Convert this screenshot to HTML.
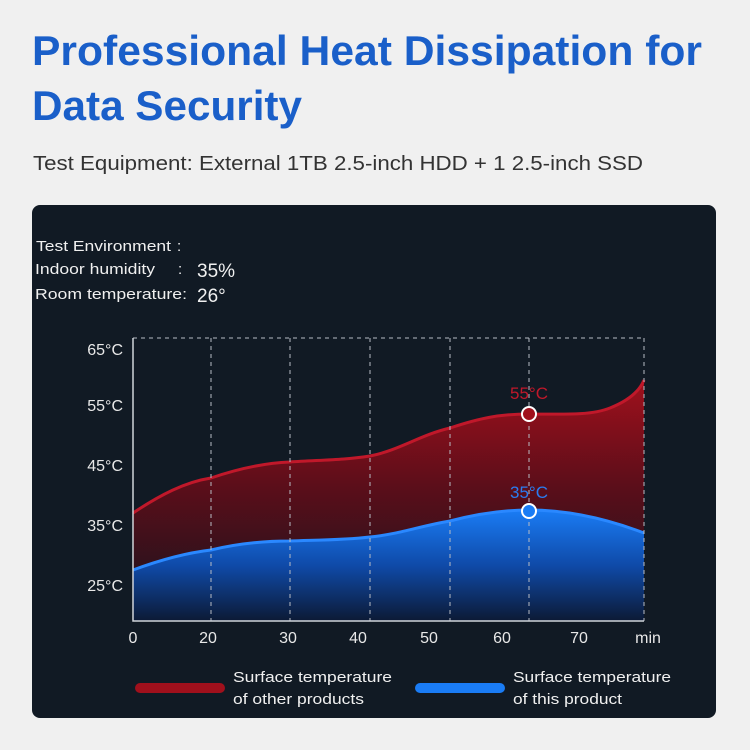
<!DOCTYPE html>
<html><head><meta charset="utf-8"><style>
html,body{margin:0;padding:0;background:#f0f0f0;}
svg{display:block;}
text{font-family:"Liberation Sans",sans-serif;}
</style></head><body>
<svg width="750" height="750" viewBox="0 0 750 750" xmlns="http://www.w3.org/2000/svg">
<defs>
<linearGradient id="rg" x1="0" y1="0" x2="0" y2="1">
<stop offset="0" stop-color="#a0101c"/><stop offset="0.45" stop-color="#5a0e1a"/><stop offset="1" stop-color="#15141d"/>
</linearGradient>
<linearGradient id="bg" x1="0" y1="0" x2="0" y2="1">
<stop offset="0" stop-color="#1a7cf5"/><stop offset="0.5" stop-color="#0f4aa8"/><stop offset="1" stop-color="#0c1a35"/>
</linearGradient>
</defs>
<rect width="750" height="750" fill="#f0f0f0"/>
<text x="32" y="65" font-size="42" font-weight="bold" fill="#1a5fc9" textLength="670" lengthAdjust="spacingAndGlyphs">Professional Heat Dissipation for</text>
<text x="32" y="120" font-size="42" font-weight="bold" fill="#1a5fc9" textLength="270" lengthAdjust="spacingAndGlyphs">Data Security</text>
<text x="33" y="170" font-size="20" fill="#333" textLength="610" lengthAdjust="spacingAndGlyphs">Test Equipment: External 1TB 2.5-inch HDD + 1 2.5-inch SSD</text>
<rect x="32" y="205" width="684" height="513" rx="8" fill="#111a24"/>
<g fill="#f0f0f0" font-size="15">
<text x="36" y="251" textLength="135" lengthAdjust="spacingAndGlyphs">Test Environment</text><text x="177" y="251">:</text>
<text x="35" y="274" textLength="120" lengthAdjust="spacingAndGlyphs">Indoor humidity</text><text x="178" y="274">:</text><text x="197" y="277" font-size="19">35%</text>
<text x="35" y="299" textLength="152" lengthAdjust="spacingAndGlyphs">Room temperature:</text><text x="197" y="302" font-size="19">26°</text>
</g>
<path d="M133 513 C160 495,185 482,211 478 C240 468,265 463,290 462 C320 460,345 460,370 456 C400 450,420 435,450 428 C480 418,500 414,529 414 C560 414,590 416,610 408 C630 400,640 390,644 380 L644 621 L133 621 Z" fill="url(#rg)"/>
<path d="M133 513 C160 495,185 482,211 478 C240 468,265 463,290 462 C320 460,345 460,370 456 C400 450,420 435,450 428 C480 418,500 414,529 414 C560 414,590 416,610 408 C630 400,640 390,644 380" fill="none" stroke="#c0182a" stroke-width="3"/>
<path d="M133 570 C160 560,185 553,211 550 C240 543,265 541,290 541 C320 540,345 540,370 537 C400 534,420 526,450 521 C480 513,505 510,529 510 C570 510,610 520,644 533 L644 621 L133 621 Z" fill="url(#bg)"/>
<path d="M133 570 C160 560,185 553,211 550 C240 543,265 541,290 541 C320 540,345 540,370 537 C400 534,420 526,450 521 C480 513,505 510,529 510 C570 510,610 520,644 533" fill="none" stroke="#2a88ff" stroke-width="3"/>
<g stroke="#b8bcc4" stroke-width="1" stroke-dasharray="4,4" fill="none">
<line x1="133" y1="338" x2="644" y2="338"/><line x1="644" y1="338" x2="644" y2="621"/>
<line x1="211" y1="338" x2="211" y2="621"/><line x1="290" y1="338" x2="290" y2="621"/>
<line x1="370" y1="338" x2="370" y2="621"/><line x1="450" y1="338" x2="450" y2="621"/>
<line x1="529" y1="338" x2="529" y2="621"/>
</g>
<polyline points="133,338 133,621 644,621" fill="none" stroke="#d0d4da" stroke-width="1.5"/>
<g fill="#e8e8e8" font-size="16" text-anchor="end">
<text x="123" y="355">65°C</text><text x="123" y="411">55°C</text><text x="123" y="471">45°C</text><text x="123" y="531">35°C</text><text x="123" y="591">25°C</text>
</g>
<g fill="#e8e8e8" font-size="16" text-anchor="middle">
<text x="133" y="643">0</text><text x="208" y="643">20</text><text x="288" y="643">30</text><text x="358" y="643">40</text><text x="429" y="643">50</text><text x="502" y="643">60</text><text x="579" y="643">70</text><text x="648" y="643">min</text>
</g>
<text x="529" y="399" fill="#c0182a" font-size="17" text-anchor="middle">55°C</text>
<text x="529" y="498" fill="#2a7cf0" font-size="17" text-anchor="middle">35°C</text>
<circle cx="529" cy="414" r="7" fill="#a0101c" stroke="#fff" stroke-width="2"/>
<circle cx="529" cy="511" r="7" fill="#1a7cf5" stroke="#fff" stroke-width="2"/>
<line x1="140" y1="688" x2="220" y2="688" stroke="#a0101c" stroke-width="10" stroke-linecap="round"/>
<line x1="420" y1="688" x2="500" y2="688" stroke="#1a7cf5" stroke-width="10" stroke-linecap="round"/>
<g fill="#f0f0f0" font-size="15">
<text x="233" y="682" textLength="159" lengthAdjust="spacingAndGlyphs">Surface temperature</text><text x="233" y="704" textLength="131" lengthAdjust="spacingAndGlyphs">of other products</text>
<text x="513" y="682" textLength="158" lengthAdjust="spacingAndGlyphs">Surface temperature</text><text x="513" y="704" textLength="109" lengthAdjust="spacingAndGlyphs">of this product</text>
</g>
</svg>
</body></html>
